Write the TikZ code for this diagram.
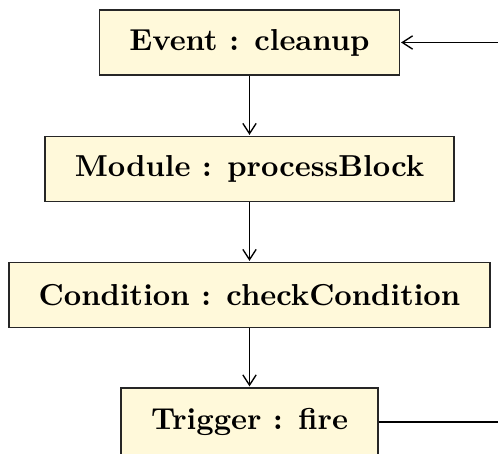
\documentclass[tikz,border=0pt]{standalone}
\usetikzlibrary{arrows.meta}
\definecolor{boxfill}{RGB}{255,249,218}
\begin{document}
\begin{tikzpicture}[x=0.33pt,y=-0.33pt,
  blk/.style={draw=black!85, fill=boxfill, line width=0.45pt, inner sep=0pt,
    minimum height=21.45pt, font=\bfseries},
  arr/.style={-{Straight Barb[length=3.4pt,width=4.4pt,line width=0.45pt]}, line width=0.45pt, shorten >=0.3pt}]
\useasboundingbox (0,0) rectangle (498,454);
\node[blk, minimum width=99pt] (ev) at (249.5,42.5) {Event : cleanup};
\node[blk, minimum width=135pt] (mod) at (249.5,169) {Module : processBlock};
\node[blk, minimum width=158.7pt] (cond) at (249.5,295) {Condition : checkCondition};
\node[blk, minimum width=84.8pt, minimum height=22.44pt] (trig) at (249.5,422) {Trigger : fire};
\coordinate (lp) at (540,0);
\draw[arr] (ev) -- (mod);
\draw[arr] (mod) -- (cond);
\draw[arr] (cond) -- (trig);
\draw[arr] (trig.east) -- (trig.east -| lp) -- (ev.east -| lp) -- (ev.east);
\end{tikzpicture}
\end{document}
